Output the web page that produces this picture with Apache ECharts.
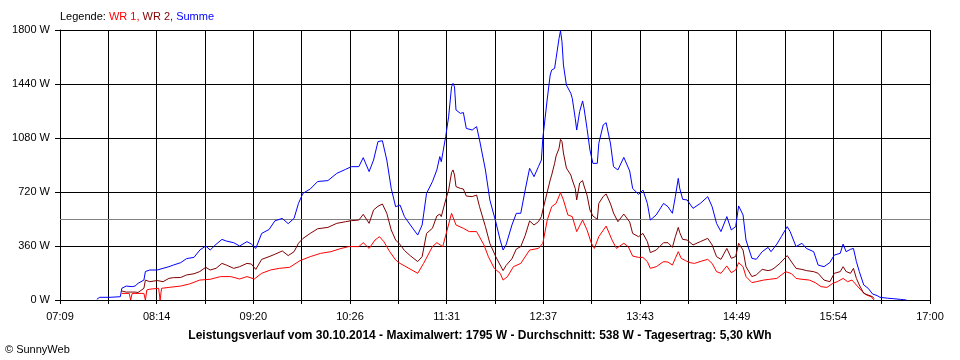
<!DOCTYPE html>
<html><head><meta charset="utf-8">
<script src="https://cdn.jsdelivr.net/npm/echarts@6/dist/echarts.min.js"></script>
<style>html,body{margin:0;padding:0;background:#fff}#c{width:960px;height:360px}</style>
</head><body><div id="c"></div>
<script>
// Tick labels of the time axis (every second gridline carries a label)
const xTickLabels = ['07:09','08:14','09:20','10:26','11:31','12:37','13:43','14:49','15:54','17:00'];
const axisStart = '07:09';
const axisEnd = '17:00';
const gridSteps = 18;
const yMax = 1800;
const yStep = 360;
const averageW = 538;

const legendText = 'Legende:';
const seriesNames = ['WR 1', 'WR 2', 'Summe'];
const footerText = 'Leistungsverlauf vom 30.10.2014 - Maximalwert: 1795 W - Durchschnitt: 538 W - Tagesertrag: 5,30 kWh';
const copyrightText = '\u00A9 SunnyWeb';

// WR 1 [time, W]
const wr1 = [
['07:51',44],['07:56',44],['07:57',0],['07:58',44],['08:02',44],['08:06',44],['08:07',0],['08:08',67],['08:10',72],
['08:16',78],['08:17',0],['08:18',78],['08:23',84],['08:31',93],['08:37',107],['08:44',133],['08:51',138],['08:58',156],
['09:05',156],['09:11',140],['09:16',156],['09:21',140],['09:26',178],['09:32',200],['09:38',211],['09:45',218],
['09:52',262],['09:59',289],['10:06',311],['10:13',322],['10:19',341],['10:25',356],['10:32',356],['10:35',382],
['10:39',344],['10:43',400],['10:46',422],['10:49',389],['10:53',322],['10:57',267],['11:00',244],['11:06',211],
['11:12',178],['11:16',244],['11:22',356],['11:25',382],['11:29',356],['11:32',467],['11:35',578],['11:38',500],
['11:43',478],['11:47',456],['11:52',456],['11:57',367],['12:00',289],['12:04',211],['12:08',178],['12:10',133],
['12:13',156],['12:17',222],['12:22',244],['12:28',333],['12:34',344],['12:37',378],['12:40',533],['12:43',622],
['12:46',644],['12:49',716],['12:51',667],['12:54',567],['12:57',556],['13:00',456],['13:04',533],['13:07',467],
['13:10',378],['13:12',344],['13:15',422],['13:20',493],['13:24',400],['13:27',344],['13:32',378],['13:35',356],
['13:38',293],['13:42',284],['13:45',284],['13:48',256],['13:50',211],['13:54',222],['13:59',256],['14:02',253],
['14:05',233],['14:07',278],['14:09',322],['14:11',278],['14:14',262],['14:17',249],['14:20',244],['14:25',260],
['14:29',271],['14:32',244],['14:35',189],['14:38',178],['14:42',227],['14:45',182],['14:48',200],['14:50',249],
['14:53',222],['14:55',156],['14:59',116],['15:02',122],['15:07',133],['15:11',138],['15:16',144],['15:19',167],
['15:22',189],['15:26',175],['15:29',144],['15:33',138],['15:38',133],['15:42',116],['15:46',89],['15:50',84],
['15:54',111],['15:57',122],['16:01',144],['16:04',122],['16:07',133],['16:10',100],['16:14',56],['16:17',33],
['16:20',22],['16:22',0]
];

// WR 2 [time, W]
const wr2 = [
['07:51',60],['07:54',53],['07:58',53],['08:00',53],['08:02',50],['08:06',78],['08:07',133],['08:10',122],['08:15',130],
['08:19',122],['08:23',144],['08:26',149],['08:31',150],['08:35',167],['08:40',175],['08:44',190],['08:48',218],
['08:51',200],['08:55',211],['08:59',244],['09:02',233],['09:07',211],['09:11',222],['09:16',244],['09:19',240],
['09:22',204],['09:26',271],['09:31',289],['09:35',305],['09:40',327],['09:44',296],['09:48',322],['09:51',378],
['09:54',410],['09:59',444],['10:04',475],['10:11',484],['10:17',511],['10:23',522],['10:27',529],['10:32',533],
['10:35',571],['10:39',511],['10:42',600],['10:45',625],['10:48',640],['10:51',578],['10:54',467],['10:57',400],
['11:00',370],['11:03',330],['11:07',295],['11:12',256],['11:15',289],['11:18',444],['11:22',478],['11:25',560],
['11:27',573],['11:28',556],['11:31',667],['11:33',733],['11:35',850],['11:36',867],['11:37',833],['11:38',756],
['11:41',744],['11:43',740],['11:45',693],['11:49',689],['11:52',700],['11:54',622],['11:58',489],['12:01',378],
['12:05',289],['12:08',233],['12:10',196],['12:12',230],['12:16',275],['12:19',340],['12:22',356],['12:25',430],
['12:28',527],['12:31',500],['12:34',522],['12:36',556],['12:37',600],['12:40',720],['12:42',800],['12:43',833],
['12:45',911],['12:46',960],['12:48',1011],['12:49',1071],['12:50',1056],['12:51',980],['12:53',880],['12:56',833],
['12:57',800],['12:59',744],['13:00',667],['13:02',780],['13:04',796],['13:05',760],['13:07',700],['13:09',600],
['13:11',560],['13:14',538],['13:15',644],['13:18',690],['13:20',707],['13:23',640],['13:25',580],['13:28',522],
['13:32',573],['13:36',520],['13:38',444],['13:42',422],['13:45',444],['13:48',389],['13:50',316],['13:54',333],
['13:59',382],['14:02',382],['14:05',351],['14:07',422],['14:09',484],['14:10',449],['14:12',404],['14:15',400],
['14:19',367],['14:24',389],['14:29',411],['14:32',367],['14:35',289],['14:38',271],['14:42',344],['14:45',278],
['14:48',290],['14:50',378],['14:53',333],['14:55',222],['14:59',156],['15:02',167],['15:06',204],['15:10',196],
['15:12',200],['15:14',211],['15:18',244],['15:23',296],['15:25',267],['15:29',211],['15:33',204],['15:36',196],
['15:41',189],['15:44',178],['15:48',133],['15:52',122],['15:55',178],['15:59',189],['16:01',222],['16:03',190],
['16:06',178],['16:08',211],['16:10',144],['16:12',100],['16:15',44],['16:18',33],['16:21',22],['16:22',10]
];

// Summe [time, W]
const summe = [
['07:34',5],['07:36',18],['07:43',18],['07:50',22],['07:51',78],['07:54',93],['07:58',89],['08:00',93],['08:02',111],
['08:06',133],['08:07',190],['08:10',200],['08:15',200],['08:19',211],['08:23',222],['08:26',233],['08:31',249],
['08:35',276],['08:40',284],['08:44',333],['08:48',360],['08:51',333],['08:55',371],['08:59',404],['09:02',393],
['09:07',382],['09:11',360],['09:16',389],['09:19',373],['09:22',344],['09:26',444],['09:31',470],['09:35',528],
['09:40',544],['09:44',509],['09:48',544],['09:51',644],['09:54',711],['09:59',740],['10:04',790],['10:11',796],
['10:17',844],['10:23',871],['10:27',889],['10:32',889],['10:35',949],['10:39',856],['10:42',933],['10:45',1056],
['10:48',1062],['10:51',933],['10:54',744],['10:57',622],['11:00',633],['11:03',556],['11:07',500],['11:12',433],
['11:15',500],['11:18',711],['11:22',789],['11:25',867],['11:27',956],['11:28',922],['11:31',1089],['11:33',1222],
['11:35',1422],['11:36',1444],['11:37',1420],['11:38',1267],['11:41',1244],['11:43',1250],['11:45',1144],
['11:49',1133],['11:52',1156],['11:54',1067],['11:58',867],['12:01',667],['12:05',522],['12:08',400],['12:10',333],
['12:12',367],['12:16',500],['12:19',578],['12:22',578],['12:25',733],['12:28',878],['12:31',822],['12:34',889],
['12:36',933],['12:37',1080],['12:40',1340],['12:42',1500],['12:43',1533],['12:45',1544],['12:46',1611],
['12:48',1744],['12:49',1795],['12:50',1722],['12:51',1567],['12:53',1433],['12:56',1378],['12:57',1344],
['12:59',1211],['13:00',1133],['13:02',1256],['13:04',1327],['13:05',1278],['13:07',1144],['13:09',1000],
['13:11',911],['13:14',911],['13:15',1044],['13:18',1167],['13:20',1182],['13:23',1040],['13:25',889],['13:28',867],
['13:32',951],['13:36',860],['13:38',744],['13:42',704],['13:45',733],['13:48',644],['13:50',533],['13:54',567],
['13:59',644],['14:02',622],['14:05',578],['14:07',689],['14:09',811],['14:10',744],['14:12',671],['14:15',667],
['14:19',611],['14:24',644],['14:29',689],['14:32',622],['14:35',511],['14:38',456],['14:42',556],['14:45',467],
['14:48',489],['14:50',627],['14:53',567],['14:55',400],['14:59',278],['15:02',271],['15:06',322],['15:10',351],
['15:12',322],['15:16',373],['15:19',422],['15:23',489],['15:25',456],['15:29',356],['15:33',378],['15:36',344],
['15:41',322],['15:44',233],['15:48',222],['15:52',250],['15:55',300],['15:59',311],['16:01',373],['16:03',322],
['16:06',338],['16:08',344],['16:10',256],['16:12',189],['16:15',100],['16:18',78],['16:21',40],['16:24',30],
['16:26',18],['16:31',12],['16:35',9],['16:40',4],['16:44',0]
];

function toSec(hhmm){ const p = hhmm.split(':'); return (+p[0])*3600 + (+p[1])*60; }
const t0 = toSec(axisStart);
const span = toSec(axisEnd) - t0;
const stepSec = span / gridSteps;
const conv = arr => arr.map(d => [toSec(d[0]) - t0, d[1]]);

const chart = echarts.init(document.getElementById('c'), null, {renderer: 'canvas'});
const FONT = 'Liberation Sans, Arial, sans-serif';
chart.setOption({
  animation: false,
  backgroundColor: '#ffffff',
  textStyle: {fontFamily: FONT},
  title: [
    {
      left: 60, top: 11, padding: 0,
      text: legendText + ' {r|' + seriesNames[0] + ',} {d|' + seriesNames[1] + ',} {b|' + seriesNames[2] + '}',
      textStyle: {fontSize: 11, fontWeight: 'normal', color: '#000', fontFamily: FONT,
        rich: {r: {color: '#ff0000', fontSize: 11, fontFamily: FONT},
               d: {color: '#800000', fontSize: 11, fontFamily: FONT},
               b: {color: '#0000ff', fontSize: 11, fontFamily: FONT}}}
    },
    {
      left: 'center', top: 330, padding: 0,
      text: footerText,
      textStyle: {fontSize: 12, fontWeight: 'bold', color: '#000', fontFamily: FONT}
    },
    {
      left: 5, top: 344, padding: 0,
      text: copyrightText,
      textStyle: {fontSize: 11, fontWeight: 'normal', color: '#000', fontFamily: FONT}
    }
  ],
  grid: {left: 60, right: 30, top: 30, bottom: 60, containLabel: false},
  xAxis: {
    type: 'value', min: 0, max: span, interval: stepSec,
    axisLine: {show: true, lineStyle: {color: '#000', width: 1}},
    axisTick: {show: true, length: 4, lineStyle: {color: '#000'}},
    splitLine: {show: true, lineStyle: {color: '#000', width: 1}},
    axisLabel: {
      margin: 11, color: '#000', fontSize: 11, fontFamily: FONT,
      showMinLabel: true, showMaxLabel: true,
      formatter: v => { const i = Math.round(v / stepSec); return i % 2 === 0 ? (xTickLabels[i/2] || '') : ''; }
    }
  },
  yAxis: {
    type: 'value', min: 0, max: yMax, interval: yStep,
    axisLine: {show: true, lineStyle: {color: '#000', width: 1}},
    axisTick: {show: true, length: 5, lineStyle: {color: '#000'}},
    splitLine: {show: true, lineStyle: {color: '#000', width: 1}},
    axisLabel: {margin: 10, color: '#000', fontSize: 11, fontFamily: FONT, formatter: v => String(v) + ' W'}
  },
  series: [
    {
      name: seriesNames[0], type: 'line', data: conv(wr1), showSymbol: false, symbol: 'none',
      lineStyle: {color: '#ff0000', width: 1}, itemStyle: {color: '#ff0000'}, z: 3,
      markLine: {silent: true, symbol: 'none', label: {show: false},
        lineStyle: {color: '#808080', type: 'solid', width: 1}, data: [{yAxis: averageW}], z: 1}
    },
    {
      name: seriesNames[1], type: 'line', data: conv(wr2), showSymbol: false, symbol: 'none',
      lineStyle: {color: '#800000', width: 1}, itemStyle: {color: '#800000'}, z: 3
    },
    {
      name: seriesNames[2], type: 'line', data: conv(summe), showSymbol: false, symbol: 'none',
      lineStyle: {color: '#0000ff', width: 1}, itemStyle: {color: '#0000ff'}, z: 4
    }
  ]
});
</script>
</body></html>
